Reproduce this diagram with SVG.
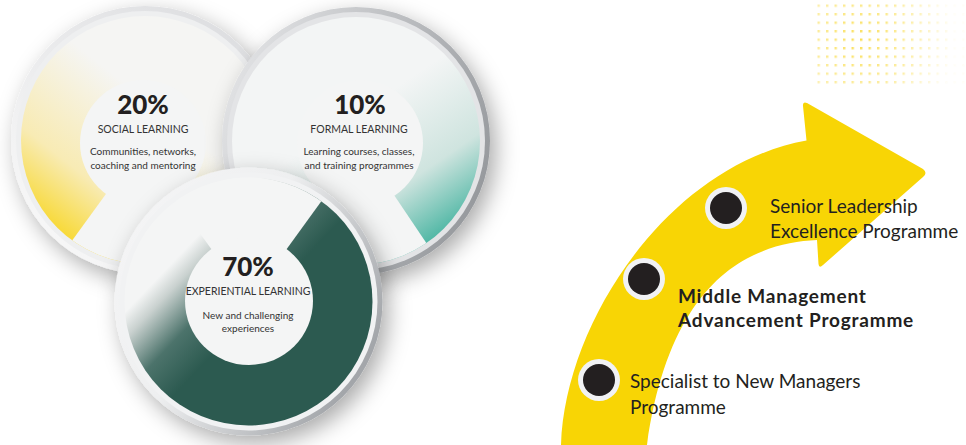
<svg xmlns="http://www.w3.org/2000/svg" width="966" height="445" viewBox="0 0 966 445">
<style>
text{font-family:"Lato","Noto Sans","Liberation Sans",sans-serif;fill:#231f20}
.pct{font-size:26px;font-weight:900;text-anchor:middle}
.cap{font-size:10.5px;text-anchor:middle;fill:#333}
.desc{font-size:10px;text-anchor:middle;fill:#333}
.step{font-size:19px}
.stepb{font-size:19px;font-weight:700;letter-spacing:0.8px}
.disc{fill:#f4f5f5}
</style>
<defs>
<filter id="sh" x="-30%" y="-30%" width="170%" height="170%">
<feDropShadow dx="6" dy="8" stdDeviation="11" flood-color="#000" flood-opacity="0.33"/>
</filter>
<linearGradient id="b1" x1="0" y1="1" x2="1" y2="0"><stop offset="0" stop-color="#fbfbfb"/><stop offset="1" stop-color="#d9dadd"/></linearGradient>
<linearGradient id="b2" x1="0" y1="0.3" x2="1" y2="0.7"><stop offset="0" stop-color="#e2e3e5"/><stop offset="1" stop-color="#94979b"/></linearGradient>
<linearGradient id="b3" x1="0" y1="0" x2="1" y2="0.6"><stop offset="0" stop-color="#f6f6f7"/><stop offset="0.5" stop-color="#eeeff0"/><stop offset="1" stop-color="#a3a6aa"/></linearGradient>
<linearGradient id="g1" gradientUnits="userSpaceOnUse" x1="30" y1="235" x2="140" y2="95"><stop offset="0" stop-color="#f8d30c"/><stop offset="0.45" stop-color="#f8ebb4"/><stop offset="1" stop-color="#f5f5f3"/></linearGradient>
<linearGradient id="g2" gradientUnits="userSpaceOnUse" x1="385" y1="95" x2="480" y2="235"><stop offset="0" stop-color="#f3f5f5"/><stop offset="0.5" stop-color="#cfe4df"/><stop offset="1" stop-color="#22a790"/></linearGradient>
<linearGradient id="g3" gradientUnits="userSpaceOnUse" x1="148" y1="288" x2="215" y2="352"><stop offset="0" stop-color="#f4f5f5"/><stop offset="0.2" stop-color="#c9d1cf"/><stop offset="0.6" stop-color="#4c736b"/><stop offset="1" stop-color="#2c5a50"/></linearGradient>
<clipPath id="c1"><circle cx="145" cy="140" r="124"/></clipPath>
<clipPath id="c2"><circle cx="356" cy="141" r="124"/></clipPath>
<clipPath id="c3"><circle cx="248.5" cy="301.5" r="124"/></clipPath>
<pattern id="dots" width="8.5" height="8.5" patternUnits="userSpaceOnUse" x="817.5" y="4.5"><rect width="2.4" height="2.4" fill="#f8d31a"/></pattern>
<radialGradient id="dm" gradientUnits="userSpaceOnUse" cx="860" cy="40" r="95"><stop offset="0" stop-color="#fff" stop-opacity="0.75"/><stop offset="0.6" stop-color="#fff" stop-opacity="0.35"/><stop offset="1" stop-color="#fff" stop-opacity="0.03"/></radialGradient>
<mask id="dmask"><rect x="810" y="0" width="156" height="90" fill="url(#dm)"/></mask>
</defs>

<g id="dot-pattern"><rect x="815" y="2" width="151" height="85" fill="url(#dots)" mask="url(#dmask)"/></g>

<g id="social-learning">
<circle cx="145" cy="140" r="134" fill="url(#b1)" filter="url(#sh)"/>
<circle cx="145" cy="140" r="129" fill="#eeeff0"/>
<circle cx="145" cy="140" r="124" fill="url(#g1)"/>
<polygon class="disc" points="143,143 34,293 252,293" clip-path="url(#c1)"/>
<circle class="disc" cx="143" cy="143" r="63"/>
<text class="pct" x="143" y="114">20%</text>
<text class="cap" x="143" y="133">SOCIAL LEARNING</text>
<text class="desc" x="143" y="155">Communities, networks,</text>
<text class="desc" x="143" y="169">coaching and mentoring</text>
</g>

<g id="formal-learning">
<circle cx="356" cy="141" r="134" fill="url(#b2)" filter="url(#sh)"/>
<circle cx="356" cy="141" r="129" fill="#e3e4e6"/>
<circle cx="356" cy="141" r="124" fill="url(#g2)"/>
<polygon class="disc" points="359,143 258,293 460,293" clip-path="url(#c2)"/>
<circle class="disc" cx="360" cy="143" r="63"/>
<text class="pct" x="360" y="114">10%</text>
<text class="cap" x="359" y="133">FORMAL LEARNING</text>
<text class="desc" x="359" y="155">Learning courses, classes,</text>
<text class="desc" x="359" y="169">and training programmes</text>
</g>

<g id="experiential-learning">
<circle cx="248.5" cy="301.5" r="134" fill="url(#b3)" filter="url(#sh)"/>
<circle cx="248.5" cy="301.5" r="129" fill="#f1f2f3"/>
<circle cx="248.5" cy="301.5" r="124" fill="url(#g3)"/>
<polygon class="disc" points="249,301 104,101 394,101" clip-path="url(#c3)"/>
<circle class="disc" cx="249" cy="301" r="64"/>
<text class="pct" x="248" y="276">70%</text>
<text class="cap" x="248" y="295">EXPERIENTIAL LEARNING</text>
<text class="desc" x="248" y="319">New and challenging</text>
<text class="desc" x="248" y="332">experiences</text>
</g>

<g id="arrow">
<path d="M561,445 C565,320 670,165 806.5,140.5 L803,106 Q802.5,101 807,103 L923,169 Q928,173 923,177 L823,265 Q819,269 818.5,264 L817,240 C750,243 670,280 647,445 Z" fill="#f8d505"/>
</g>

<g id="connectors"></g>

<g id="step-specialist">
<circle cx="599" cy="380" r="21" fill="#f1f2f4"/>
<circle cx="599" cy="380" r="16" fill="#231f20"/>
<text class="step" x="630" y="388">Specialist to New Managers</text>
<text class="step" x="630" y="414">Programme</text>
</g>
<g id="step-middle">
<circle cx="644" cy="279" r="21" fill="#f1f2f4"/>
<circle cx="644" cy="279" r="16" fill="#231f20"/>
<text class="stepb" x="678" y="303">Middle Management</text>
<text class="stepb" x="678" y="327">Advancement Programme</text>
</g>
<g id="step-senior">
<circle cx="726" cy="208" r="21" fill="#f1f2f4"/>
<circle cx="726" cy="208" r="16" fill="#231f20"/>
<text class="step" x="770" y="213">Senior Leadership</text>
<text class="step" x="770" y="238">Excellence Programme</text>
</g>
</svg>
